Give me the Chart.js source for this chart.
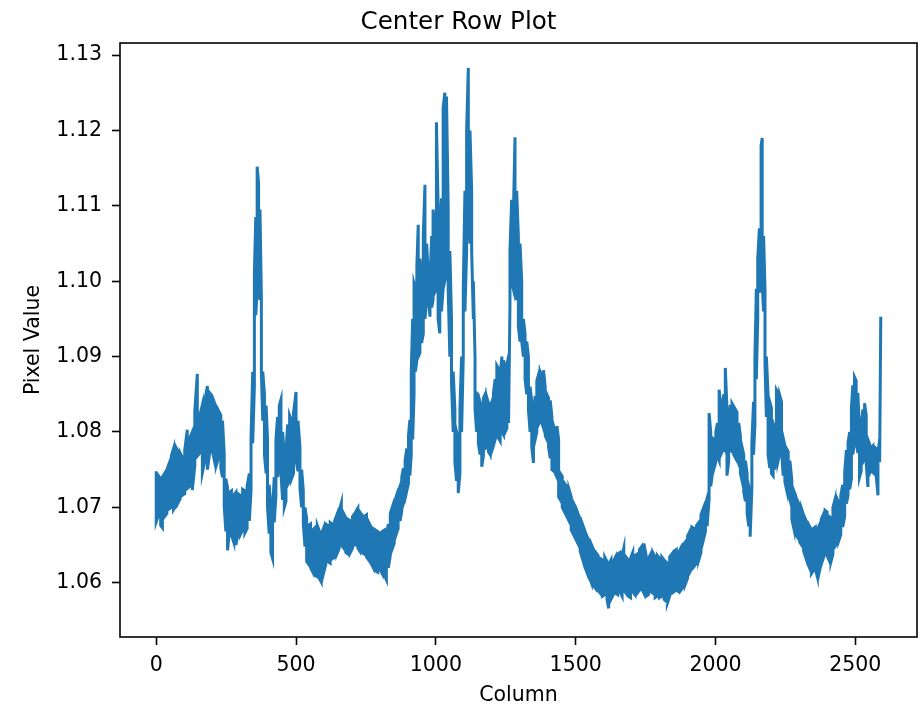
<!DOCTYPE html>
<html lang="en">
<head>
  <meta charset="UTF-8">
  <title>Center Row Plot</title>
  <script src="https://cdn.jsdelivr.net/npm/chart.js"></script>
  <style>
    body { margin: 0; background: #fff; }
    canvas { display: block; }
  </style>
</head>
<body>
  <canvas id="grafica" width="922" height="704"></canvas>

  <script>
    // column positions along the center row, with the highest and lowest
    // pixel value seen around each one (the trace is very noisy)
    const columns = [
      0, 8, 16, 22, 30, 38, 46, 54, 62, 70,
      78, 86, 94, 102, 111, 120, 129, 138, 147, 156,
      165, 174, 183, 191, 199, 207, 215, 223, 231, 237,
      243, 249, 255, 262, 269, 277, 285, 293, 301, 309,
      317, 325, 333, 339, 345, 351, 356, 361, 366, 371,
      376, 381, 387, 393, 398, 404, 410, 416, 422, 428,
      434, 440, 446, 452, 458, 464, 470, 477, 484, 491,
      500, 507, 514, 520, 526, 532, 538, 544, 552, 560,
      568, 576, 584, 590, 598, 606, 614, 622, 630, 638,
      646, 654, 662, 670, 678, 686, 694, 702, 710, 716,
      721, 728, 736, 744, 752, 760, 768, 776, 784, 792,
      800, 808, 816, 823, 830, 837, 844, 851, 858, 865,
      872, 878, 884, 890, 896, 902, 907, 912, 917, 922,
      927, 932, 937, 943, 949, 955, 961, 967, 973, 979,
      985, 990, 996, 1002, 1008, 1014, 1020, 1026, 1032, 1038,
      1044, 1050, 1056, 1062, 1068, 1074, 1080, 1086, 1092, 1098,
      1104, 1110, 1116, 1122, 1128, 1134, 1140, 1146, 1152, 1158,
      1164, 1170, 1176, 1182, 1188, 1194, 1200, 1206, 1212, 1218,
      1224, 1230, 1236, 1242, 1248, 1254, 1260, 1265, 1271, 1277,
      1283, 1289, 1295, 1301, 1307, 1313, 1319, 1325, 1331, 1337,
      1343, 1349, 1355, 1361, 1367, 1373, 1379, 1385, 1391, 1397,
      1403, 1409, 1415, 1421, 1427, 1433, 1439, 1445, 1452, 1460,
      1468, 1476, 1484, 1492, 1500, 1508, 1516, 1524, 1532, 1540,
      1548, 1556, 1564, 1572, 1580, 1588, 1596, 1604, 1612, 1618,
      1626, 1634, 1642, 1650, 1658, 1666, 1672, 1680, 1688, 1696,
      1704, 1712, 1720, 1728, 1736, 1744, 1752, 1760, 1768, 1776,
      1784, 1792, 1800, 1808, 1816, 1822, 1828, 1836, 1844, 1852,
      1860, 1868, 1876, 1884, 1892, 1900, 1908, 1916, 1924, 1932,
      1940, 1948, 1956, 1964, 1970, 1977, 1983, 1989, 1995, 2001,
      2007, 2013, 2019, 2025, 2030, 2035, 2041, 2047, 2053, 2059,
      2065, 2071, 2077, 2083, 2089, 2095, 2101, 2107, 2113, 2119,
      2124, 2130, 2136, 2141, 2146, 2151, 2157, 2163, 2167, 2172,
      2177, 2182, 2188, 2194, 2200, 2206, 2212, 2218, 2224, 2230,
      2236, 2242, 2248, 2254, 2260, 2266, 2273, 2280, 2287, 2294,
      2301, 2308, 2315, 2322, 2329, 2336, 2343, 2350, 2357, 2364,
      2371, 2378, 2385, 2392, 2399, 2406, 2413, 2420, 2427, 2434,
      2441, 2448, 2455, 2462, 2468, 2474, 2480, 2486, 2491, 2497,
      2503, 2509, 2515, 2521, 2527, 2533, 2539, 2545, 2551, 2557,
      2563, 2569, 2575, 2581, 2587, 2591
    ];

    const rowMax = [
      1.0748, 1.0742, 1.0738, 1.0740, 1.0745, 1.0750, 1.0758, 1.0768, 1.0778, 1.0780,
      1.0774, 1.0772, 1.0766, 1.0776, 1.0803, 1.0792, 1.0800, 1.0828, 1.0877, 1.0822,
      1.0836, 1.0842, 1.0861, 1.0852, 1.0848, 1.0840, 1.0832, 1.0828, 1.0822, 1.0815,
      1.0772, 1.0738, 1.0726, 1.0720, 1.0722, 1.0716, 1.0720, 1.0718, 1.0716, 1.0724,
      1.0722, 1.0728, 1.0745, 1.0792, 1.0880, 1.1010, 1.1085, 1.1152, 1.1130, 1.1095,
      1.0980, 1.0880, 1.0850, 1.0835, 1.0790, 1.0730, 1.0700, 1.0695, 1.0740, 1.0790,
      1.0820, 1.0835, 1.0843, 1.0800, 1.0768, 1.0775, 1.0810, 1.0822, 1.0815, 1.0825,
      1.0853, 1.0815, 1.0780, 1.0750, 1.0722, 1.0700, 1.0685, 1.0676, 1.0678, 1.0670,
      1.0673, 1.0676, 1.0668, 1.0664, 1.0672, 1.0678, 1.0676, 1.0680, 1.0678, 1.0682,
      1.0690, 1.0695, 1.0706, 1.0692, 1.0686, 1.0684, 1.0682, 1.0688, 1.0692, 1.0696,
      1.0699, 1.0694, 1.0690, 1.0688, 1.0690, 1.0680, 1.0674, 1.0672, 1.0670, 1.0668,
      1.0666, 1.0668, 1.0670, 1.0662, 1.0678, 1.0692, 1.0700, 1.0706, 1.0714, 1.0720,
      1.0728, 1.0740, 1.0752, 1.0762, 1.0778, 1.0795, 1.0816, 1.0880, 1.0950, 1.0997,
      1.0990, 1.1020, 1.1075, 1.1030, 1.1000, 1.1060, 1.1128, 1.1050, 1.1010, 1.1000,
      1.1060, 1.1095, 1.1070, 1.1211, 1.1100, 1.1060, 1.1110, 1.1230, 1.1250, 1.1245,
      1.1100, 1.1040, 1.0950, 1.0880, 1.0830, 1.0800, 1.0790, 1.0830, 1.0900, 1.0990,
      1.1120, 1.1200, 1.1283, 1.1200, 1.1120, 1.1000, 1.0900, 1.0851, 1.0848, 1.0840,
      1.0832, 1.0845, 1.0850, 1.0846, 1.0838, 1.0834, 1.0840, 1.0852, 1.0870, 1.0888,
      1.0884, 1.0876, 1.0900, 1.0895, 1.0884, 1.0890, 1.0900, 1.1040, 1.1108, 1.1085,
      1.1191, 1.1120, 1.1060, 1.1050, 1.1000, 1.0950, 1.0930, 1.0920, 1.0900, 1.0860,
      1.0840, 1.0820, 1.0848, 1.0868, 1.0876, 1.0880, 1.0875, 1.0882, 1.0860, 1.0850,
      1.0845, 1.0842, 1.0820, 1.0808, 1.0800, 1.0808, 1.0790, 1.0745, 1.0741, 1.0732,
      1.0728, 1.0724, 1.0714, 1.0706, 1.0700, 1.0692, 1.0684, 1.0678, 1.0670, 1.0662,
      1.0655, 1.0651, 1.0644, 1.0640, 1.0636, 1.0632, 1.0630, 1.0634, 1.0628, 1.0624,
      1.0630, 1.0628, 1.0634, 1.0638, 1.0640, 1.0636, 1.0646, 1.0634, 1.0630, 1.0632,
      1.0640, 1.0636, 1.0638, 1.0644, 1.0648, 1.0652, 1.0636, 1.0632, 1.0638, 1.0640,
      1.0634, 1.0636, 1.0632, 1.0634, 1.0630, 1.0628, 1.0626, 1.0634, 1.0638, 1.0642,
      1.0644, 1.0640, 1.0646, 1.0650, 1.0654, 1.0662, 1.0668, 1.0674, 1.0672, 1.0676,
      1.0680, 1.0690, 1.0698, 1.0704, 1.0712, 1.0825, 1.0800, 1.0792, 1.0790, 1.0800,
      1.0812, 1.0856, 1.0832, 1.0838, 1.0850, 1.0885, 1.0832, 1.0812, 1.0836, 1.0838,
      1.0834, 1.0830, 1.0826, 1.0812, 1.0795, 1.0780, 1.0770, 1.0762, 1.0745, 1.0728,
      1.0720, 1.0785, 1.0840, 1.0900, 1.0990, 1.1030, 1.1070, 1.1180, 1.1190, 1.1060,
      1.0990, 1.0900, 1.0850, 1.0840, 1.0832, 1.0812, 1.0806, 1.0856, 1.0852, 1.0848,
      1.0840, 1.0792, 1.0782, 1.0778, 1.0774, 1.0762, 1.0736, 1.0722, 1.0715, 1.0708,
      1.0702, 1.0698, 1.0690, 1.0684, 1.0678, 1.0675, 1.0670, 1.0672, 1.0674, 1.0670,
      1.0676, 1.0684, 1.0690, 1.0696, 1.0694, 1.0688, 1.0686, 1.0700, 1.0710, 1.0712,
      1.0706, 1.0716, 1.0730, 1.0746, 1.0776, 1.0786, 1.0800, 1.0832, 1.0862, 1.0873,
      1.0868, 1.0852, 1.0800, 1.0808, 1.0830, 1.0838, 1.0822, 1.0790, 1.0784, 1.0780,
      1.0782, 1.0780, 1.0778, 1.0772, 1.0790, 1.0953
    ];

    const rowMin = [
      1.0681, 1.0690, 1.0676, 1.0673, 1.0688, 1.0692, 1.0698, 1.0700, 1.0697, 1.0702,
      1.0706, 1.0712, 1.0716, 1.0718, 1.0725, 1.0728, 1.0723, 1.0755, 1.0768, 1.0772,
      1.0746, 1.0762, 1.0750, 1.0772, 1.0778, 1.0764, 1.0756, 1.0766, 1.0752, 1.0740,
      1.0702, 1.0668, 1.0643, 1.0668, 1.0664, 1.0654, 1.0650, 1.0667, 1.0664, 1.0670,
      1.0666, 1.0672, 1.0682, 1.0722, 1.0785, 1.0860, 1.0955, 1.0990, 1.1000, 1.0975,
      1.0880, 1.0815, 1.0770, 1.0745, 1.0700, 1.0665, 1.0640, 1.0632, 1.0680, 1.0715,
      1.0740, 1.0760, 1.0745, 1.0710, 1.0700, 1.0708, 1.0730, 1.0735, 1.0738, 1.0745,
      1.0762, 1.0748, 1.0725, 1.0700, 1.0678, 1.0648, 1.0628, 1.0625, 1.0620, 1.0614,
      1.0610, 1.0608, 1.0605, 1.0601, 1.0612, 1.0624, 1.0628, 1.0626, 1.0632, 1.0634,
      1.0638, 1.0645, 1.0650, 1.0646, 1.0640, 1.0638, 1.0640, 1.0646, 1.0650, 1.0650,
      1.0646, 1.0642, 1.0640, 1.0638, 1.0634, 1.0630, 1.0626, 1.0620, 1.0616, 1.0614,
      1.0618, 1.0612, 1.0610, 1.0604, 1.0620, 1.0636, 1.0645, 1.0652, 1.0664, 1.0672,
      1.0682, 1.0695, 1.0705, 1.0712, 1.0722, 1.0732, 1.0742, 1.0770, 1.0790, 1.0850,
      1.0880, 1.0895, 1.0900, 1.0905, 1.0918, 1.0930, 1.0950, 1.0975, 1.0979, 1.0953,
      1.0965, 1.0975, 1.0985, 1.0990, 1.0950, 1.0931, 1.0960, 1.0990, 1.1000, 1.1010,
      1.0990, 1.0900, 1.0865, 1.0800, 1.0760, 1.0735, 1.0719, 1.0745, 1.0800, 1.0900,
      1.0960, 1.1040, 1.1080, 1.1050, 1.1040, 1.0950, 1.0830, 1.0800, 1.0785, 1.0770,
      1.0754, 1.0768, 1.0778, 1.0780, 1.0774, 1.0770, 1.0775, 1.0782, 1.0790, 1.0798,
      1.0792, 1.0788, 1.0800, 1.0796, 1.0800, 1.0805, 1.0812, 1.0970, 1.1000, 1.0990,
      1.1010, 1.0975, 1.0940, 1.0920, 1.0920, 1.0900, 1.0870, 1.0850, 1.0830, 1.0800,
      1.0780, 1.0759, 1.0790, 1.0800, 1.0810, 1.0815, 1.0812, 1.0805, 1.0795, 1.0790,
      1.0780, 1.0765, 1.0750, 1.0748, 1.0745, 1.0740, 1.0714, 1.0710, 1.0700, 1.0694,
      1.0688, 1.0682, 1.0670, 1.0664, 1.0658, 1.0652, 1.0642, 1.0632, 1.0622, 1.0614,
      1.0608, 1.0600, 1.0596, 1.0592, 1.0590, 1.0586, 1.0582, 1.0584, 1.0578, 1.0566,
      1.0578, 1.0584, 1.0586, 1.0584, 1.0588, 1.0582, 1.0590, 1.0586, 1.0582, 1.0580,
      1.0588, 1.0584, 1.0586, 1.0590, 1.0592, 1.0586, 1.0582, 1.0584, 1.0588, 1.0586,
      1.0580, 1.0582, 1.0580, 1.0582, 1.0578, 1.0576, 1.0573, 1.0582, 1.0586, 1.0588,
      1.0590, 1.0588, 1.0590, 1.0594, 1.0598, 1.0606, 1.0614, 1.0620, 1.0622, 1.0626,
      1.0630, 1.0640, 1.0656, 1.0668, 1.0675, 1.0710, 1.0728, 1.0745, 1.0752, 1.0760,
      1.0768, 1.0762, 1.0770, 1.0775, 1.0778, 1.0775, 1.0742, 1.0760, 1.0776, 1.0774,
      1.0770, 1.0766, 1.0764, 1.0758, 1.0745, 1.0735, 1.0720, 1.0708, 1.0692, 1.0675,
      1.0661, 1.0725, 1.0770, 1.0810, 1.0870, 1.0950, 1.0985, 1.1000, 1.0995, 1.0960,
      1.0890, 1.0820, 1.0770, 1.0752, 1.0745, 1.0742, 1.0750, 1.0768, 1.0762, 1.0772,
      1.0776, 1.0742, 1.0734, 1.0724, 1.0718, 1.0710, 1.0684, 1.0672, 1.0664, 1.0660,
      1.0654, 1.0650, 1.0642, 1.0634, 1.0626, 1.0620, 1.0612, 1.0616, 1.0618, 1.0608,
      1.0614, 1.0626, 1.0632, 1.0640, 1.0636, 1.0630, 1.0628, 1.0638, 1.0648, 1.0652,
      1.0656, 1.0664, 1.0674, 1.0688, 1.0705, 1.0716, 1.0724, 1.0738, 1.0770, 1.0785,
      1.0790, 1.0772, 1.0740, 1.0748, 1.0760, 1.0764, 1.0758, 1.0727, 1.0745, 1.0750,
      1.0746, 1.0744, 1.0740, 1.0716, 1.0760, 1.0953
    ];

    const xTicks = [0, 500, 1000, 1500, 2000, 2500];
    const yTicks = [1.06, 1.07, 1.08, 1.09, 1.10, 1.11, 1.12, 1.13];

    // zig-zag between max and min so the noisy band fills in
    const puntos = [];
    for (let i = 0; i < columns.length; i++) {
      const par = [rowMax[i], rowMin[i]];
      if (i % 2) par.reverse();
      puntos.push({ x: columns[i], y: par[0] });
      puntos.push({ x: columns[i], y: par[1] });
    }

    // top and right spines, drawn over the line like the other two
    const marco = {
      id: 'marco',
      afterDraw(chart) {
        const { ctx, chartArea: a } = chart;
        ctx.save();
        ctx.strokeStyle = '#000';
        ctx.lineWidth = 1.6;
        ctx.strokeRect(a.left, a.top, a.right - a.left, a.bottom - a.top);
        ctx.restore();
      }
    };

    const fuente = { family: 'DejaVu Sans', size: 20.5 };
    const marcas = {
      display: true,
      drawOnChartArea: false,
      drawTicks: true,
      tickLength: 8,
      tickWidth: 1.6,
      tickColor: '#000'
    };

    Chart.defaults.color = '#000';

    new Chart(document.getElementById('grafica'), {
      type: 'line',
      data: {
        datasets: [{
          data: puntos,
          borderColor: '#1f77b4',
          borderWidth: 3,
          pointRadius: 0,
          tension: 0,
          fill: false
        }]
      },
      options: {
        responsive: false,
        animation: false,
        layout: { padding: { left: 0, right: 5, top: 0, bottom: 0 } },
        plugins: {
          legend: { display: false },
          tooltip: { enabled: false },
          title: {
            display: true,
            text: 'Center Row Plot',
            font: { family: 'DejaVu Sans', size: 24.6, weight: 'normal' },
            padding: { top: 7.9, bottom: 5.6 }
          }
        },
        scales: {
          x: {
            type: 'linear',
            min: -129.55,
            max: 2720.55,
            grid: marcas,
            border: { display: false },
            afterBuildTicks: s => { s.ticks = xTicks.map(v => ({ value: v })); },
            afterFit: s => { s.height = 67; },
            ticks: { font: fuente, padding: 8, maxRotation: 0, callback: v => String(v) },
            title: { display: true, text: 'Column', font: fuente, padding: { top: 0, bottom: -3.7 } }
          },
          y: {
            min: 1.0528,
            max: 1.1316,
            grid: marcas,
            border: { display: false },
            afterBuildTicks: s => { s.ticks = yTicks.map(v => ({ value: v })); },
            afterFit: s => { s.width = 120; },
            ticks: { font: fuente, padding: 10, callback: v => v.toFixed(2) },
            title: { display: true, text: 'Pixel Value', font: fuente, padding: { top: 21.6, bottom: 0 } }
          }
        }
      },
      plugins: [marco]
    });
  </script>
</body>
</html>
